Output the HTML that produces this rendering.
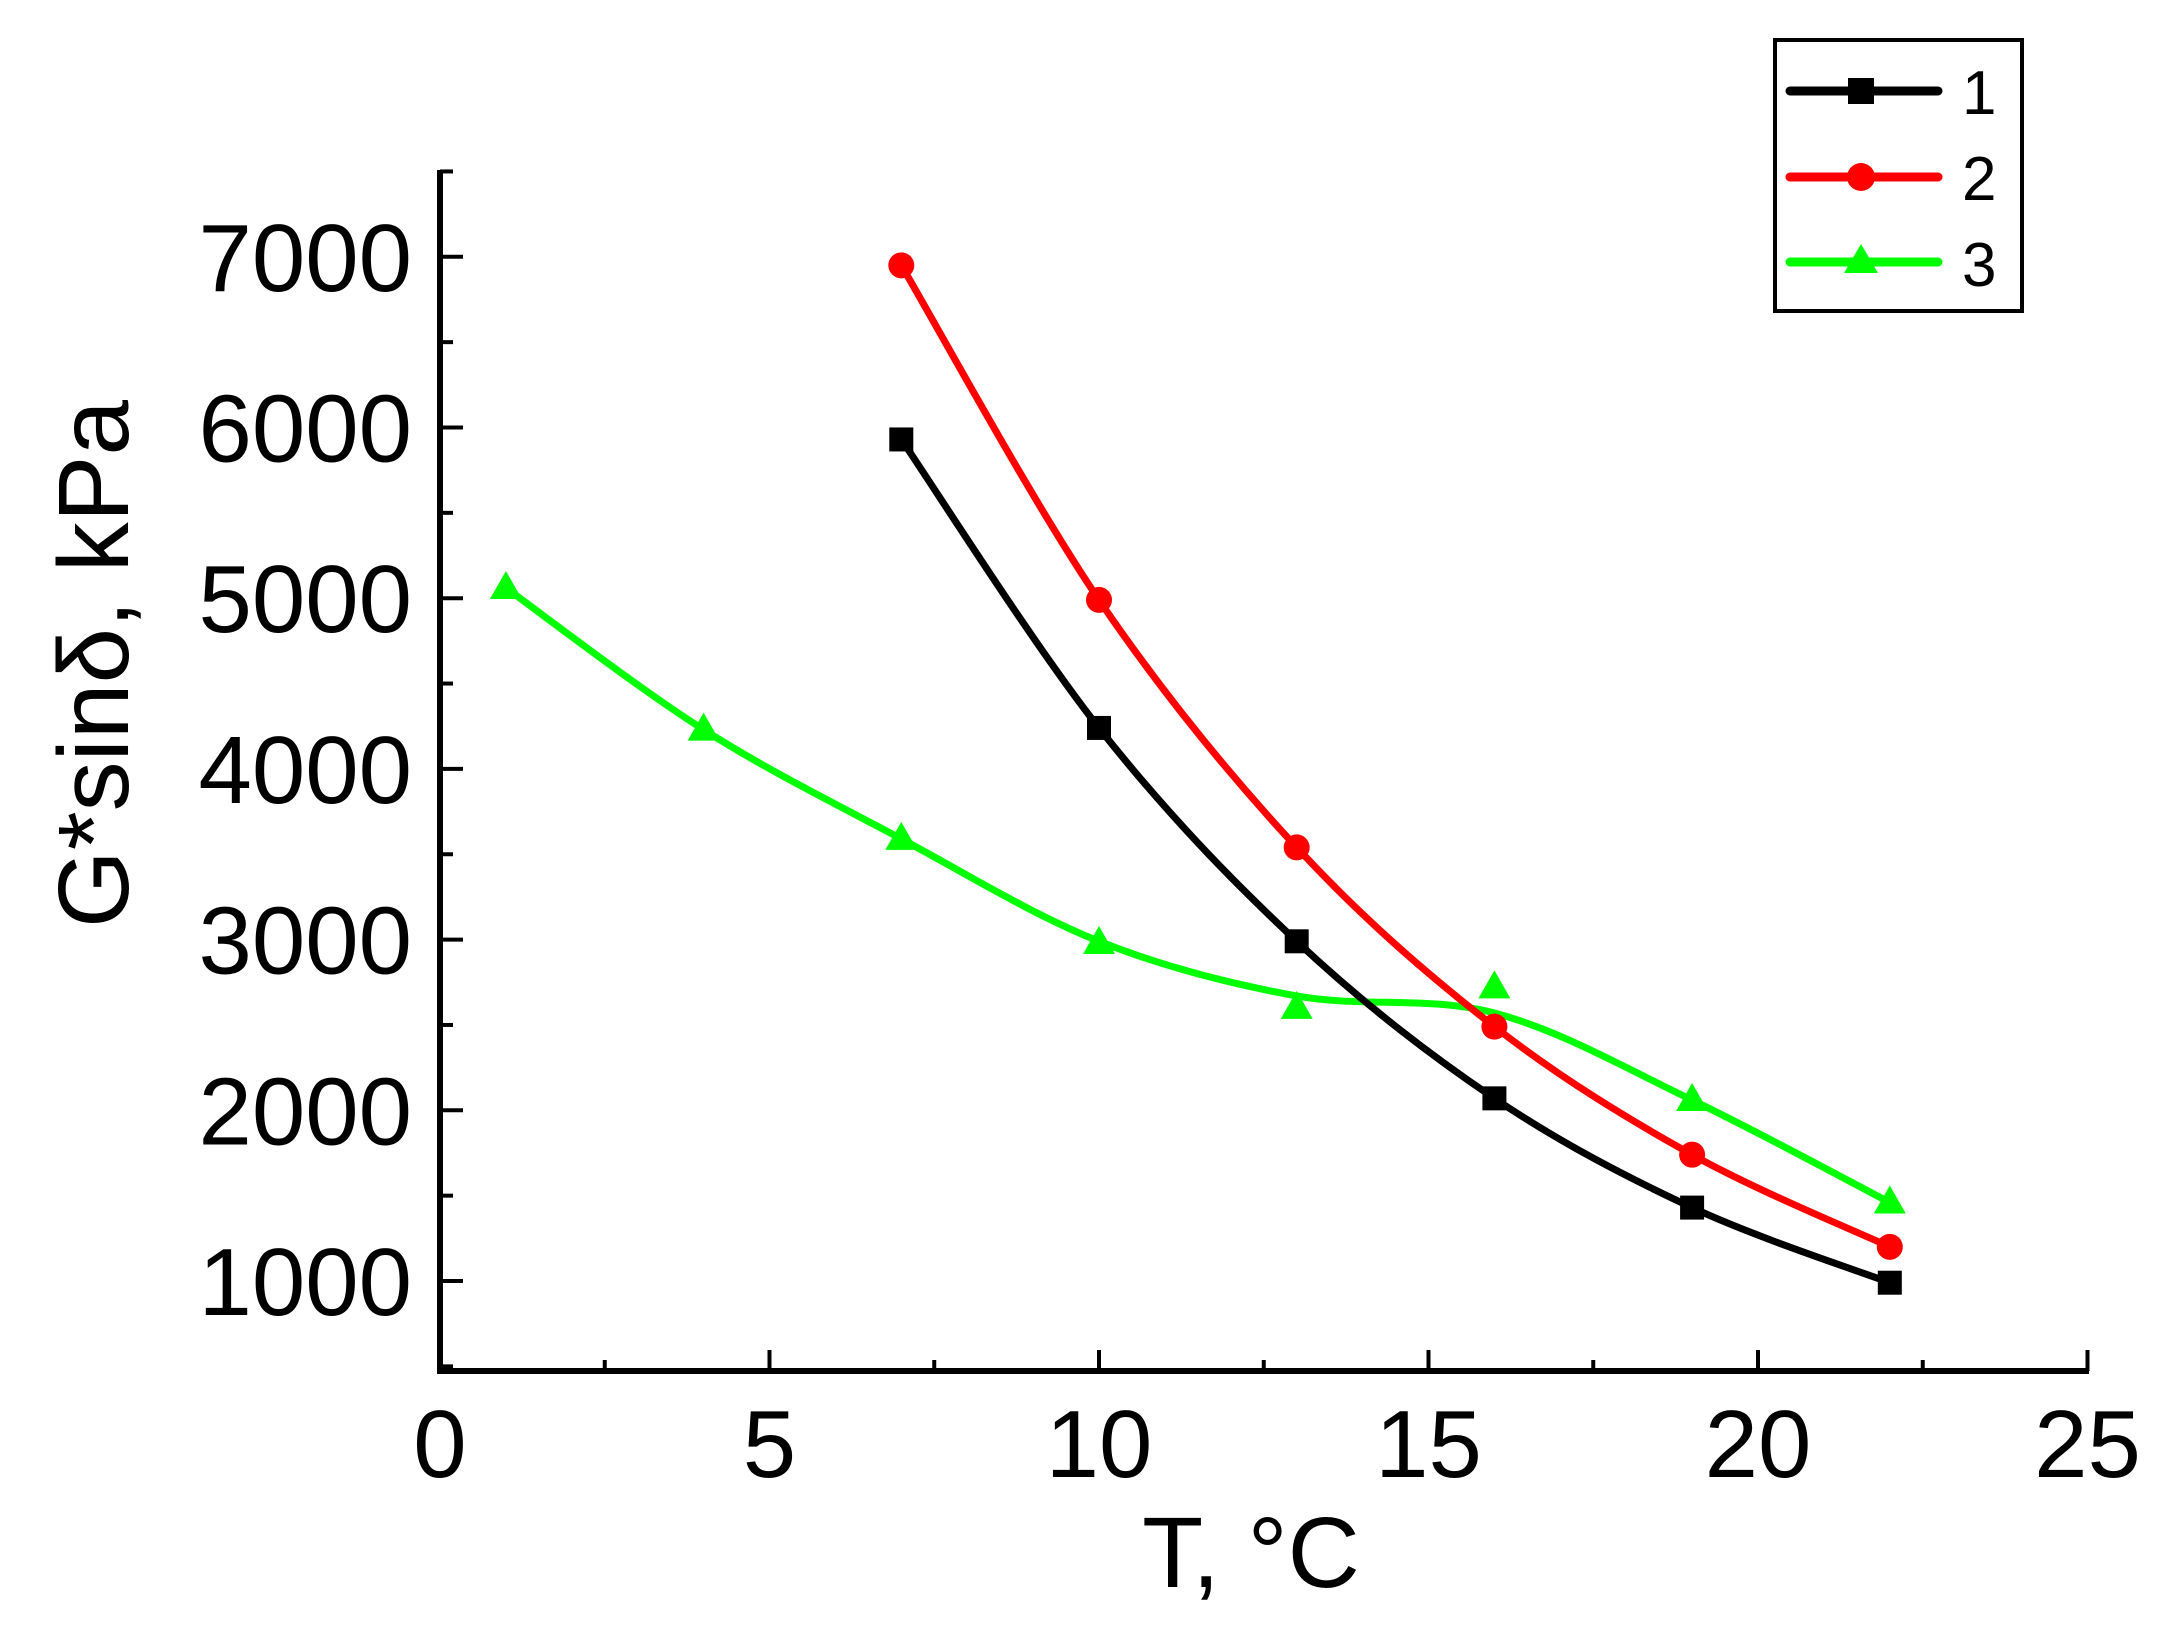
<!DOCTYPE html>
<html><head><meta charset="utf-8"><style>
html,body{margin:0;padding:0;background:#fff}
svg{display:block}
text{font-family:"Liberation Sans",Arial,sans-serif;fill:#000}
</style></head><body>
<svg id="s" width="2169" height="1628" viewBox="0 0 2169 1628" xmlns="http://www.w3.org/2000/svg">
<g stroke="#000" stroke-width="6" fill="none">
<line x1="440" y1="170" x2="440" y2="1374"/>
<line x1="437" y1="1371" x2="2089" y2="1371"/>
</g>
<g id="ticks" stroke="#000" stroke-width="4"></g>
<g id="labels" font-size="96"></g>
<text x="1251" y="1587" font-size="100" text-anchor="middle">T, °C</text>
<text transform="translate(128,664) rotate(-90)" font-size="100" text-anchor="middle">G*sinδ, kPa</text>
<g id="series"></g>
<rect x="1775" y="40" width="247" height="271" fill="none" stroke="#000" stroke-width="4"/>
<g stroke-width="9" stroke-linecap="round">
<line x1="1790" y1="91" x2="1938" y2="91" stroke="#000"/>
<line x1="1790" y1="177" x2="1938" y2="177" stroke="#f00"/>
<line x1="1790" y1="262" x2="1938" y2="262" stroke="#0f0"/>
</g>
<rect x="1848" y="78" width="26" height="26" fill="#000"/>
<circle cx="1861" cy="177" r="14" fill="#f00"/>
<polygon points="1861,244 1844,273 1878,273" fill="#0f0"/>
<g font-size="62"><text x="1962" y="114">1</text><text x="1962" y="200">2</text><text x="1962" y="286">3</text></g>
</svg>
<script>
var NS="http://www.w3.org/2000/svg";
function X(t){return 440+t*65.9;}
function Y(v){return 1281-(v-1000)*0.1707;}
function el(tag,a,p){var e=document.createElementNS(NS,tag);for(var k in a)e.setAttribute(k,a[k]);p.appendChild(e);return e;}
var tk=document.getElementById('ticks'),lb=document.getElementById('labels');
for(var t=0;t<=25;t+=2.5){var x=X(t);el('line',{x1:x,y1:1371,x2:x,y2:(t%5==0?1350:1360)},tk);}
for(var t=0;t<=25;t+=5){var e=el('text',{x:X(t),y:1477,'text-anchor':'middle'},lb);e.textContent=t;}
for(var v=500;v<=7500;v+=500){var y=Y(v);if(y>1368)continue;el('line',{x1:440,y1:y,x2:(v%1000==0?463:453),y2:y},tk);}
for(var v=1000;v<=7000;v+=1000){var e=el('text',{x:412,y:Y(v)+34,'text-anchor':'end'},lb);e.textContent=v;}
function cr(pts){var p=pts.map(function(q){return [X(q[0]),Y(q[1])];});var d='M'+p[0][0]+','+p[0][1];
for(var i=0;i<p.length-1;i++){var p0=p[i-1]||p[i],p1=p[i],p2=p[i+1],p3=p[i+2]||p[i+1];
d+=' C'+(p1[0]+(p2[0]-p0[0])/6)+','+(p1[1]+(p2[1]-p0[1])/6)+' '+(p2[0]-(p3[0]-p1[0])/6)+','+(p2[1]-(p3[1]-p1[1])/6)+' '+p2[0]+','+p2[1];}return d;}
var sg=document.getElementById('series');
var s1=[[7,5930],[10,4240],[13,2990],[16,2070],[19,1430],[22,990]];
var s2=[[7,6950],[10,4990],[13,3540],[16,2490],[19,1740],[22,1200]];
var s3=[[1,5060],[4,4230],[7,3590],[10,2980],[13,2600],[16,2720],[19,2060],[22,1460]];
var s3c=[[1,5060],[4,4230],[7,3590],[10,2990],[13,2670],[16,2570],[19,2060],[22,1460]];
el('path',{d:cr(s3c),stroke:'#0f0','stroke-width':7,fill:'none'},sg);
el('path',{d:cr(s1),stroke:'#000','stroke-width':7,fill:'none'},sg);
el('path',{d:cr(s2),stroke:'#f00','stroke-width':7,fill:'none'},sg);
s1.forEach(function(q){el('rect',{x:X(q[0])-12,y:Y(q[1])-12,width:24,height:24,fill:'#000'},sg);});
s2.forEach(function(q){el('circle',{cx:X(q[0]),cy:Y(q[1]),r:13,fill:'#f00'},sg);});
s3.forEach(function(q){var x=X(q[0]),y=Y(q[1]);el('polygon',{points:x+','+(y-17)+' '+(x-16)+','+(y+11)+' '+(x+16)+','+(y+11),fill:'#0f0'},sg);});
</script>
</body></html>
